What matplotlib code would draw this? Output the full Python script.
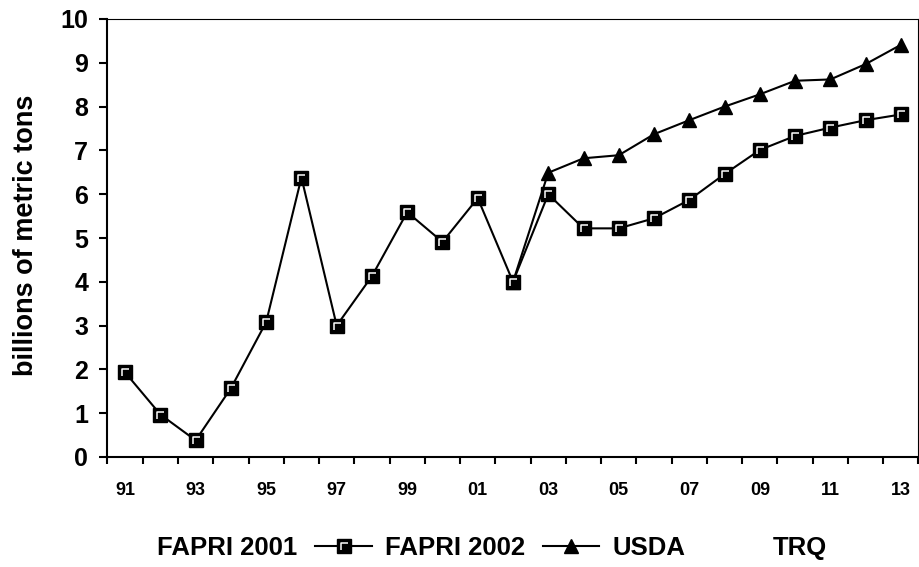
import matplotlib
matplotlib.use("Agg")
import matplotlib.pyplot as plt
from matplotlib.lines import Line2D
from matplotlib.path import Path
from matplotlib.legend_handler import HandlerTuple

plt.rcParams['font.family'] = ['Liberation Sans', 'DejaVu Sans']
plt.rcParams['font.weight'] = 'bold'

# crop years, 1991 .. 2013
years = ['91', '92', '93', '94', '95', '96', '97', '98', '99', '00', '01', '02',
         '03', '04', '05', '06', '07', '08', '09', '10', '11', '12', '13']
fapri_2002 = [1.93, 0.97, 0.38, 1.57, 3.08, 6.38, 3.00, 4.13, 5.59, 4.91, 5.91, 4.00,
              6.00, 5.22, 5.22, 5.45, 5.87, 6.46, 7.01, 7.33, 7.52, 7.69, 7.82]
usda_years = ['02', '03', '04', '05', '06', '07', '08', '09', '10', '11', '12', '13']
usda = [4.00, 6.49, 6.82, 6.89, 7.37, 7.69, 8.00, 8.28, 8.59, 8.62, 8.97, 9.41]
legend_labels = ['FAPRI 2001', 'FAPRI 2002', 'USDA', 'TRQ']

x_all = list(range(len(years)))
x_usda = [years.index(y) for y in usda_years]

# white bevel highlight inside the square marker (Excel look)
bevel = Path([(-1, -1), (1, 1), (-0.45, -0.55), (-0.45, 0.45), (0.55, 0.45)],
             [Path.MOVETO, Path.MOVETO, Path.MOVETO, Path.LINETO, Path.LINETO])

fig = plt.figure(figsize=(9.2, 5.67), dpi=100)
ax = fig.add_axes([107.5 / 920, 1 - 457 / 567, (918.5 - 107.5) / 920, (457 - 19) / 567])

usda_line, = ax.plot(x_usda, usda, color='black', lw=1.5, marker='^',
                     markersize=10.5, markerfacecolor='black', markeredgecolor='black',
                     clip_on=False, zorder=3)
f02_line, = ax.plot(x_all, fapri_2002, color='black', lw=1.5, marker='s',
                    markersize=9.5, markerfacecolor='black', markeredgecolor='black',
                    clip_on=False, zorder=4)
f02_hl, = ax.plot(x_all, fapri_2002, linestyle='none', marker=bevel,
                  markersize=9.5, markerfacecolor='none', markeredgecolor='white',
                  markeredgewidth=1.1, clip_on=False, zorder=5)

ax.set_xlim(-0.5, len(years) - 0.5)
ax.set_ylim(0, 10)
ax.set_yticks(range(0, 11))
ax.tick_params(axis='y', direction='out', length=6, width=1.5, pad=8, labelsize=18)

# tick marks between categories, labels on every other category
ax.set_xticks([i - 0.5 for i in range(len(years) + 1)])
ax.set_xticklabels([])
ax.set_xticks(x_all[::2], minor=True)
ax.set_xticklabels(years[::2], minor=True)
ax.tick_params(axis='x', which='major', direction='out', length=5, width=1.5)
ax.tick_params(axis='x', which='minor', length=0, pad=18, labelsize=13)

for side in ['left', 'bottom']:
    ax.spines[side].set_linewidth(1.5)
for side in ['top', 'right']:
    ax.spines[side].set_linewidth(0.8)

fig.text(26 / 920, 1 - 235 / 567, 'billions of metric tons', rotation=90,
         ha='center', va='center', fontsize=19.5, fontweight='bold')

blank = Line2D([], [], linestyle='none', marker='none')
handles = [blank, (f02_line, f02_hl), usda_line, blank]
fig.legend(handles, legend_labels, loc='center', bbox_to_anchor=(0.497, 1 - 548 / 567),
           ncol=4, frameon=False, fontsize=18.5, handlelength=2.2, handletextpad=0.5,
           columnspacing=0.7, handler_map={tuple: HandlerTuple(ndivide=1)})

fig.savefig('out.png', dpi=100)
